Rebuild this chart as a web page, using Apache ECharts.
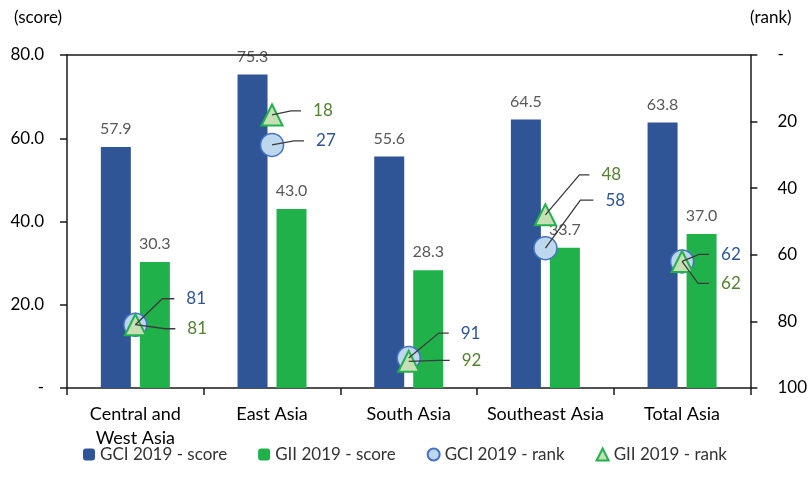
<!DOCTYPE html>
<html>
<head>
<meta charset="utf-8">
<script src="https://cdn.jsdelivr.net/npm/echarts@6/dist/echarts.min.js"></script>
<style>
  html, body { margin: 0; padding: 0; background: #ffffff; }
  #chart { width: 810px; height: 491px; }
</style>
</head>
<body>
<div id="chart"></div>
<script>
// ---- data ----
const categories = ['Central and\nWest Asia', 'East Asia', 'South Asia', 'Southeast Asia', 'Total Asia'];
const gciScore = [57.9, 75.3, 55.6, 64.5, 63.8];
const giiScore = [30.3, 43.0, 28.3, 33.7, 37.0];
const gciRank = [81, 27, 91, 58, 62];
const giiRank = [81, 18, 92, 48, 62];
const scoreTickLabels = ['-', '20.0', '40.0', '60.0', '80.0'];
const rankTickLabels = ['-', '20', '40', '60', '80', '100'];

// ---- callout layout: [elbow dx, elbow dy, horizontal run] in px from the marker ----
const gciCallout = [[27, -26, 12], [22, -4, 10], [30, -25, 10], [35, -48, 13], [17, -7, 10]];
const giiCallout = [[30, 4, 10], [19, -4, 10], [30, -1, 11], [34, -40, 10], [16, 22, 11]];

const FONT = 'Lato, "Open Sans", sans-serif';
const BLUE = '#2f5597';
const GREEN = '#21b14b';
const AXIS = '#1a1a1a';

function calloutSeries(ranks, offsets, color) {
  return {
    type: 'custom',
    yAxisIndex: 1,
    z: 6,
    silent: true,
    data: ranks.map((r, i) => [i, r]),
    renderItem(params, api) {
      const p = api.coord([api.value(0), api.value(1)]);
      const o = offsets[params.dataIndex];
      const ex = p[0] + o[0];
      const ey = p[1] + o[1];
      const hx = ex + o[2];
      return {
        type: 'group',
        children: [
          {
            type: 'polyline',
            shape: { points: [p, [ex, ey], [hx, ey]] },
            style: { stroke: '#3b3b3b', lineWidth: 1.3, fill: null }
          },
          {
            type: 'text',
            x: hx + 12,
            y: ey,
            style: {
              text: String(api.value(1)),
              fill: color,
              font: '17px ' + FONT,
              align: 'left',
              verticalAlign: 'middle'
            }
          }
        ]
      };
    }
  };
}

const chart = echarts.init(document.getElementById('chart'), null, { renderer: 'canvas' });

chart.setOption({
  animation: false,
  backgroundColor: '#ffffff',
  textStyle: { fontFamily: FONT },
  grid: { left: 67, right: 58, top: 55, bottom: 103 },
  graphic: [
    { type: 'text', left: 14, top: 9, style: { text: '(score)', font: '17px ' + FONT, fill: '#000' } },
    { type: 'text', left: 750, top: 9, style: { text: '(rank)', font: '17px ' + FONT, fill: '#000' } }
  ],
  legend: {
    data: ['GCI 2019 - score', 'GII 2019 - score', 'GCI 2019 - rank', 'GII 2019 - rank'],
    left: 78,
    top: 441,
    itemWidth: 12,
    itemHeight: 12,
    itemGap: 31,
    textStyle: { fontFamily: FONT, fontSize: 17, color: '#333' }
  },
  xAxis: [
    {
      type: 'category',
      data: categories,
      position: 'bottom',
      axisLine: { lineStyle: { color: AXIS, width: 1.5 } },
      axisTick: { show: true, length: 7, lineStyle: { color: AXIS, width: 1.5 } },
      axisLabel: {
        interval: 0, color: '#000', fontSize: 18, lineHeight: 24, margin: 14, fontFamily: FONT
      }
    },
    {
      type: 'category',
      data: categories,
      position: 'top',
      z: 8,
      axisLine: { lineStyle: { color: AXIS, width: 1.5 } },
      axisTick: { show: false },
      axisLabel: { show: false }
    }
  ],
  yAxis: [
    {
      type: 'value',
      min: 0, max: 80, interval: 20,
      position: 'left',
      axisLine: { show: true, lineStyle: { color: AXIS, width: 1.5 } },
      axisTick: { show: true, length: 7, lineStyle: { color: AXIS, width: 1.5 } },
      splitLine: { show: false },
      axisLabel: {
        color: '#000', fontSize: 17, margin: 23, fontFamily: FONT,
        formatter: v => scoreTickLabels[Math.round(v / 20)]
      }
    },
    {
      type: 'value',
      min: 0, max: 100, interval: 20,
      inverse: true,
      position: 'right',
      axisLine: { show: true, lineStyle: { color: AXIS, width: 1.5 } },
      axisTick: { show: true, length: 7, lineStyle: { color: AXIS, width: 1.5 } },
      splitLine: { show: false },
      axisLabel: {
        color: '#000', fontSize: 17, margin: 27, fontFamily: FONT, align: 'left',
        formatter: v => rankTickLabels[Math.round(v / 20)]
      }
    }
  ],
  series: [
    {
      name: 'GCI 2019 - score',
      type: 'bar',
      data: gciScore,
      barWidth: 30,
      barGap: '30%',
      itemStyle: { color: BLUE },
      label: {
        show: true, position: 'top', distance: 10,
        color: '#595959', fontSize: 16, fontFamily: FONT,
        formatter: p => p.value.toFixed(1)
      }
    },
    {
      name: 'GII 2019 - score',
      type: 'bar',
      data: giiScore,
      barWidth: 30,
      itemStyle: { color: GREEN },
      label: {
        show: true, position: 'top', distance: 10,
        color: '#595959', fontSize: 16, fontFamily: FONT,
        formatter: p => p.value.toFixed(1)
      }
    },
    {
      name: 'GCI 2019 - rank',
      type: 'scatter',
      yAxisIndex: 1,
      z: 4,
      data: gciRank.map((r, i) => [i, r]),
      symbol: 'circle',
      symbolSize: 23,
      itemStyle: { color: '#bdd7ee', borderColor: '#4472c4', borderWidth: 1.5, opacity: 1 }
    },
    {
      name: 'GII 2019 - rank',
      type: 'scatter',
      yAxisIndex: 1,
      z: 5,
      data: giiRank.map((r, i) => [i, r]),
      symbol: 'triangle',
      symbolSize: 21,
      itemStyle: { color: '#c5e0b4', borderColor: '#22b14c', borderWidth: 2, opacity: 1 }
    },
    calloutSeries(gciRank, gciCallout, '#2f5597'),
    calloutSeries(giiRank, giiCallout, '#548235')
  ]
});
</script>
</body>
</html>
